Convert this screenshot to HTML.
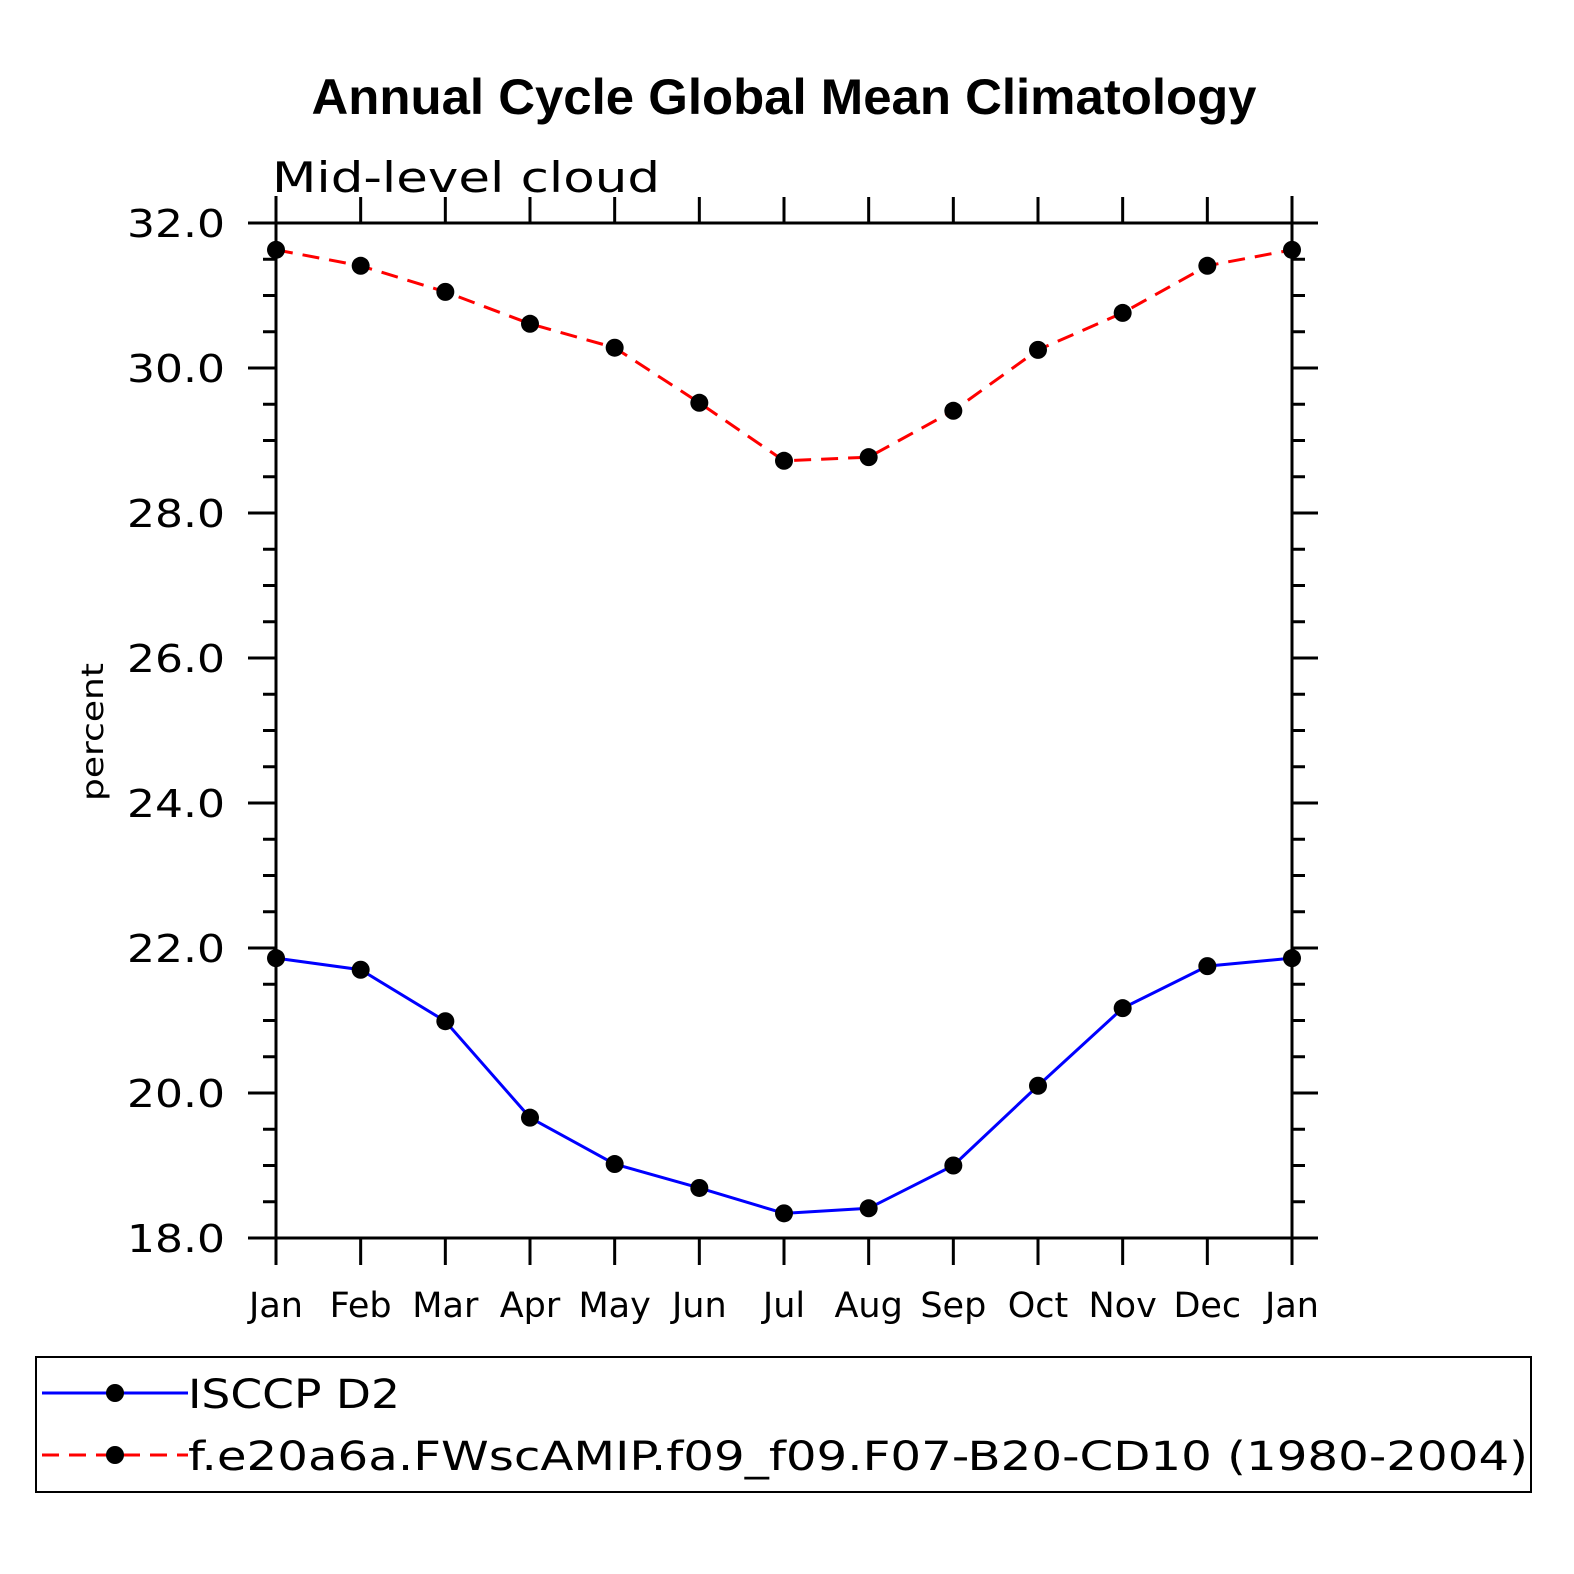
<!DOCTYPE html>
<html><head><meta charset="utf-8"><style>
html,body{margin:0;padding:0;background:#fff;overflow:hidden;width:1574px;height:1574px;}
svg{display:block;font-family:"DejaVu Sans","Liberation Sans",sans-serif;}
</style></head><body>
<svg id="chart" width="1574" height="1574" viewBox="0 0 1574 1574">
<text x="784" y="114" text-anchor="middle" font-family="Liberation Sans, sans-serif" font-weight="bold" font-size="50" textLength="945" lengthAdjust="spacingAndGlyphs">Annual Cycle Global Mean Climatology</text>
<text x="272" y="192" font-size="42" fill="#000" textLength="388" lengthAdjust="spacingAndGlyphs">Mid-level cloud</text>
<text transform="translate(103,732) rotate(-90)" text-anchor="middle" font-size="30" textLength="138" lengthAdjust="spacingAndGlyphs">percent</text>
<g id="axes"></g>
<g id="series"></g>
<rect x="36" y="1357" width="1495" height="135" fill="none" stroke="#000" stroke-width="2"/>
<g>
<line x1="42" y1="1393" x2="188" y2="1393" stroke="#00f" stroke-width="3"/>
<circle cx="115" cy="1393" r="9"/>
<text x="188" y="1408" font-size="40" textLength="212" lengthAdjust="spacingAndGlyphs">ISCCP D2</text>
</g>
<g>
<line x1="42" y1="1455" x2="188" y2="1455" stroke="#f00" stroke-width="3" stroke-dasharray="17,10"/>
<circle cx="115" cy="1455" r="9"/>
<text x="188" y="1470" font-size="40" textLength="1340" lengthAdjust="spacingAndGlyphs">f.e20a6a.FWscAMIP.f09_f09.F07-B20-CD10 (1980-2004)</text>
</g>
</svg>
<script>
const months = ["Jan","Feb","Mar","Apr","May","Jun","Jul","Aug","Sep","Oct","Nov","Dec","Jan"];
const isccpValues = [21.86,21.70,20.99,19.66,19.02,18.69,18.34,18.41,19.00,20.10,21.17,21.75,21.86];
const modelValues = [31.63,31.41,31.05,30.61,30.28,29.52,28.72,28.77,29.41,30.25,30.76,31.41,31.63];
const yTickValues = [18,20,22,24,26,28,30,32];
const yMin = 18, yMax = 32;

const X0=276, X1=1292, Y0=1238, Y1=223;
const xs = i => X0 + (X1-X0)*i/(months.length-1);
const ys = v => Y0 - (Y0-Y1)*(v-yMin)/(yMax-yMin);
const NS="http://www.w3.org/2000/svg";
const axes=document.getElementById('axes');
const series=document.getElementById('series');
function mk(tag,attrs,parent){const e=document.createElementNS(NS,tag);for(const k in attrs)e.setAttribute(k,attrs[k]);parent.appendChild(e);return e;}
const st={stroke:"#000","stroke-width":3};
let l;
l=mk('line',Object.assign({x1:250,y1:Y1,x2:1318,y2:Y1},st),axes);
 
l=mk('line',Object.assign({x1:250,y1:Y0,x2:1318,y2:Y0},st),axes);
 
l=mk('line',Object.assign({x1:X0,y1:196,x2:X0,y2:1265},st),axes);
 
l=mk('line',Object.assign({x1:X1,y1:196,x2:X1,y2:1265},st),axes);
 
months.forEach((m,i)=>{
  const x=xs(i);
  let t=mk('line',Object.assign({x1:x,y1:Y1,x2:x,y2:197},st),axes);
   
  t=mk('line',Object.assign({x1:x,y1:Y0,x2:x,y2:1265},st),axes);
   
  const tx=mk('text',{x:x,y:1317,"text-anchor":"middle","font-size":35},axes);
  tx.textContent=m;
   
});
for(let v=yMin; v<=yMax+1e-9; v+=0.5){
  const y=ys(v);
  let t=mk('line',Object.assign({x1:X0,y1:y,x2:263,y2:y},st),axes);
   
  t=mk('line',Object.assign({x1:X1,y1:y,x2:1305,y2:y},st),axes);
   
}
yTickValues.forEach(v=>{
  const y=ys(v);
  let t=mk('line',Object.assign({x1:X0,y1:y,x2:248,y2:y},st),axes);
   
  t=mk('line',Object.assign({x1:X1,y1:y,x2:1318,y2:y},st),axes);
   
  const tx=mk('text',{x:225,y:y+14,"text-anchor":"end","font-size":38,textLength:98,lengthAdjust:"spacingAndGlyphs"},axes);
  tx.textContent=v.toFixed(1);
   
});
function drawSeries(vals,color,dash,name){
  const pts=vals.map((v,i)=>xs(i)+","+ys(v)).join(" ");
  const pl=mk('polyline',{points:pts,fill:"none",stroke:color,"stroke-width":3},series);
  if(dash) pl.setAttribute('stroke-dasharray',dash);
  
  
  vals.forEach((v,i)=>{
    const c=mk('circle',{cx:xs(i),cy:ys(v),r:9,fill:"#000"},series);
    
    
  });
}
drawSeries(modelValues,"#f00","17,10","model");
drawSeries(isccpValues,"#00f",null,"isccp");
</script>
</body></html>
